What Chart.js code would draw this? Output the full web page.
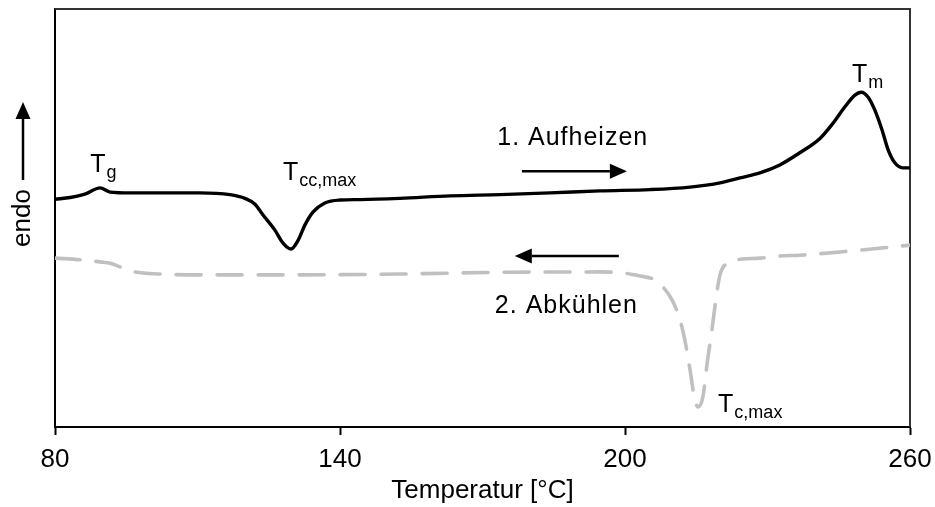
<!DOCTYPE html>
<html><head><meta charset="utf-8">
<script src="https://cdn.jsdelivr.net/npm/chart.js@4.4.1/dist/chart.umd.min.js"></script>
<style>html,body{margin:0;padding:0;background:#fff}#wrap{width:935px;height:507px}</style>
</head><body><div id="wrap"><canvas id="c" width="935" height="507"></canvas></div>
<script>
// 1. Aufheizen (heating run)
const heatingTemp = [80.0, 83.2, 86.3, 89.5, 91.6, 95.8, 100.0, 110.5, 116.8, 120.0, 122.1, 123.8, 126.3, 128.0, 129.7, 131.2, 132.6, 134.3, 136.8, 140.0, 144.2, 152.6, 163.2, 173.7, 184.2, 194.7, 205.3, 213.7, 220.0, 224.2, 228.4, 232.6, 236.8, 241.1, 243.8, 246.3, 248.4, 249.7, 251.2, 252.6, 254.1, 255.4, 256.8, 258.5, 260.0];
const heatingFlow = [54.5, 54.9, 55.7, 57.2, 56.2, 56.0, 56.0, 56.0, 55.6, 54.7, 53.3, 50.7, 47.1, 44.0, 42.6, 44.7, 48.3, 51.4, 53.6, 54.3, 54.4, 54.7, 55.3, 55.6, 56.0, 56.5, 56.8, 57.4, 58.4, 59.6, 60.8, 62.7, 65.6, 69.1, 72.7, 76.6, 79.4, 80.1, 78.9, 75.8, 71.1, 66.3, 63.2, 62.0, 62.0];
// 2. Abkühlen (cooling run)
const coolingTemp = [80.0, 85.3, 89.5, 91.6, 93.7, 96.8, 102.1, 110.5, 131.6, 152.6, 173.7, 194.7, 200.0, 203.2, 206.3, 208.0, 209.9, 211.6, 212.6, 213.7, 214.7, 215.4, 216.4, 217.3, 218.3, 219.2, 220.0, 221.5, 223.6, 228.4, 232.6, 236.8, 247.4, 260.0];
const coolingFlow = [40.4, 40.0, 39.5, 39.2, 38.3, 37.1, 36.6, 36.4, 36.4, 36.6, 37.0, 37.1, 36.8, 36.1, 35.2, 33.5, 30.4, 25.6, 20.8, 13.6, 6.5, 4.8, 7.2, 15.3, 23.2, 31.1, 36.4, 39.2, 40.0, 40.4, 40.9, 41.1, 42.1, 43.5];
// axis ticks
const xTickValues = [80, 140, 200, 260];
// annotation labels (main text, subscript, anchor temperature, anchor value)
const labelMain = ['T', 'T', 'T', 'T', '1. Aufheizen', '2. Abkühlen'];
const labelSub  = ['g', 'cc,max', 'm', 'c,max', '', ''];
const labelTemp = [87.4, 128.0, 247.8, 219.6, 173.1, 172.6];
const labelVal  = [61.0, 59.1, 82.5, 3.6, 67.5, 27.3];
// direction arrows: [fromTemp, toTemp, value]
const arrowFrom = [178.3, 198.7];
const arrowTo   = [200.4, 176.8];
const arrowVal  = [61.2, 40.9];

const FONT = '"Liberation Sans", Arial, sans-serif';

function drawArrow(ctx, x1, y1, x2, y2, head, half) {
  const ang = Math.atan2(y2 - y1, x2 - x1);
  const bx = x2 - head * Math.cos(ang), by = y2 - head * Math.sin(ang);
  ctx.beginPath(); ctx.moveTo(x1, y1); ctx.lineTo(bx, by); ctx.stroke();
  ctx.beginPath();
  ctx.moveTo(x2, y2);
  ctx.lineTo(bx + half * Math.sin(ang), by - half * Math.cos(ang));
  ctx.lineTo(bx - half * Math.sin(ang), by + half * Math.cos(ang));
  ctx.closePath(); ctx.fill();
}

const decoPlugin = {
  id: 'deco',
  beforeDatasetsDraw(chart) {
    const {ctx, chartArea: a} = chart;
    ctx.save();
    ctx.strokeStyle = '#333'; ctx.lineWidth = 2;
    ctx.beginPath(); ctx.moveTo(a.left, a.top); ctx.lineTo(a.right, a.top); ctx.lineTo(a.right, a.bottom); ctx.stroke();
    ctx.restore();
  },
  afterDraw(chart) {
    const {ctx} = chart;
    const xs = chart.scales.x, ys = chart.scales.y;
    ctx.save();
    ctx.fillStyle = '#000'; ctx.strokeStyle = '#000';
    ctx.textBaseline = 'alphabetic'; ctx.textAlign = 'left';
    for (let i = 0; i < labelMain.length; i++) {
      const x = xs.getPixelForValue(labelTemp[i]);
      const y = ys.getPixelForValue(labelVal[i]);
      ctx.font = '25px ' + FONT;
      ctx.letterSpacing = labelMain[i].length > 1 ? '1px' : '0px';
      ctx.fillText(labelMain[i], x, y);
      const w = ctx.measureText(labelMain[i]).width;
      if (labelSub[i]) {
        ctx.letterSpacing = '0px';
        ctx.font = '18px ' + FONT;
        ctx.fillText(labelSub[i], x + w + 1, y + 6);
      }
    }
    ctx.letterSpacing = '0px';
    ctx.lineWidth = 2.5;
    for (let i = 0; i < arrowFrom.length; i++) {
      const y = ys.getPixelForValue(arrowVal[i]);
      drawArrow(ctx, xs.getPixelForValue(arrowFrom[i]), y, xs.getPixelForValue(arrowTo[i]), y, 17, 7.5);
    }
    // "endo" direction arrow next to the y-axis title
    const ax = ys.left + 23;
    ctx.lineWidth = 2.5;
    drawArrow(ctx, ax, 180, ax, 102, 17, 7.5);
    ctx.restore();
  }
};

const toPts = (xs, ys) => xs.map((x, i) => ({x, y: ys[i]}));

new Chart(document.getElementById('c'), {
  type: 'line',
  data: {
    datasets: [
      { label: '1. Aufheizen', data: toPts(heatingTemp, heatingFlow), borderColor: '#000', borderWidth: 3.4,
        pointRadius: 0, cubicInterpolationMode: 'monotone', fill: false },
      { label: '2. Abkühlen', data: toPts(coolingTemp, coolingFlow), borderColor: '#c0c0c0', borderWidth: 3.6,
        borderDash: [25, 16], borderCapStyle: 'round', pointRadius: 0, cubicInterpolationMode: 'monotone', fill: false }
    ]
  },
  options: {
    responsive: false, animation: false, devicePixelRatio: 1,
    layout: { padding: { top: 9, right: 25, left: 0, bottom: 0 } },
    plugins: { legend: { display: false }, tooltip: { enabled: false } },
    scales: {
      x: {
        type: 'linear', min: 80, max: 260,
        afterBuildTicks: s => { s.ticks = xTickValues.map(v => ({value: v})); },
        afterFit: s => { s.height = 80; s.paddingLeft = 0; s.paddingRight = 0; },
        ticks: { color: '#000', font: { family: FONT, size: 26 }, padding: 9, maxRotation: 0 },
        grid: { display: true, drawOnChartArea: false, drawTicks: true, tickLength: 8, tickWidth: 2, tickColor: '#000' },
        border: { display: true, color: '#000', width: 2 },
        title: { display: true, text: 'Temperatur [°C]', color: '#000', font: { family: FONT, size: 26 }, padding: { top: 0, bottom: 1 } }
      },
      y: {
        min: 0, max: 100,
        afterFit: s => { s.width = 55; },
        ticks: { display: false },
        grid: { display: true, drawOnChartArea: false, drawTicks: false },
        border: { display: true, color: '#000', width: 2 },
        title: { display: true, text: 'endo', color: '#000', font: { family: FONT, size: 26 }, padding: { top: 7, bottom: 0 } }
      }
    }
  },
  plugins: [decoPlugin]
});
</script>
</body></html>
